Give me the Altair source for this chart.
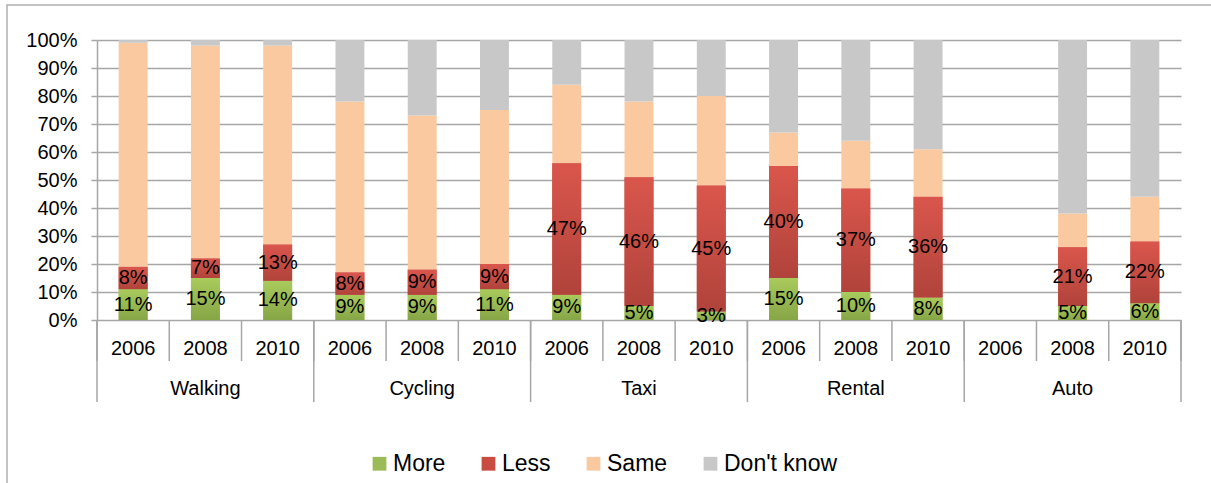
import altair as alt
import pandas as pd

groups = ["Walking", "Cycling", "Taxi", "Rental", "Auto"]
years = ["2006", "2008", "2010"]
series = ["More", "Less", "Same", "Don't know"]
more = [11, 15, 14, 9, 9, 11, 9, 5, 3, 15, 10, 8, 0, 5, 6]
less = [8, 7, 13, 8, 9, 9, 47, 46, 45, 40, 37, 36, 0, 21, 22]
same = [80, 76, 71, 61, 55, 55, 28, 27, 32, 12, 17, 17, 0, 12, 16]
dont = [1, 2, 2, 22, 27, 25, 16, 22, 20, 33, 36, 39, 0, 62, 56]
colors = ["#9BBB59", "#C94C43", "#FAC9A0", "#C8C8C8"]

W, H = 1084, 280
FONT = "Liberation Sans"

rows = []
vals = [more, less, same, dont]
for gi, g in enumerate(groups):
    for yi, yr in enumerate(years):
        idx = gi * 3 + yi
        for si, s in enumerate(series):
            rows.append({"idx": idx, "group": g, "year": yr, "series": s,
                         "order": si, "value": vals[si][idx] / 100})
df = pd.DataFrame(rows)

cats = pd.DataFrame([{"idx": gi * 3 + yi, "year": yr, "group": g}
                     for gi, g in enumerate(groups) for yi, yr in enumerate(years)])
grp = pd.DataFrame([{"gidx": gi, "group": g} for gi, g in enumerate(groups)])
bounds = pd.DataFrame({"b": list(range(len(groups) * len(years) + 1))})
gbounds = pd.DataFrame({"b": [gi * 3 for gi in range(len(groups) + 1)]})

xscale = alt.Scale(domain=[0, len(groups) * len(years)], nice=False, zero=False)
yscale = alt.Scale(domain=[0, 1], nice=False)
yax = alt.Axis(format="%", values=[i / 10 for i in range(11)],
               labelOverlap=False,
               grid=True, gridColor="#A6A6A6", gridWidth=1.5,
               domainColor="#A6A6A6", domainWidth=1.5,
               tickColor="#A6A6A6", tickWidth=1.5, tickSize=6,
               labelFont=FONT, labelFontSize=20, labelColor="#000",
               labelPadding=14, title=None)

base = alt.Chart(df).transform_stack(
    stack="value", groupby=["idx"], as_=["y0", "y1"], sort=[alt.SortField("order")]
).transform_calculate(
    xa="datum.idx + 0.3", xb="datum.idx + 0.7", xm="datum.idx + 0.5",
    ym="(datum.y0 + datum.y1) / 2"
)

bars = base.mark_bar().encode(
    x=alt.X("xa:Q", scale=xscale, axis=None),
    x2="xb:Q",
    y=alt.Y("y0:Q", scale=yscale, axis=yax),
    y2="y1:Q",
    color=alt.Color("series:N", scale=alt.Scale(domain=series, range=colors),
                    sort=series,
                    legend=alt.Legend(orient="none", legendX=271, legendY=412,
                                      direction="horizontal", title=None,
                                      symbolType="square", symbolSize=190,
                                      symbolStrokeWidth=0,
                                      labelFont=FONT, labelFontSize=23,
                                      labelColor="#000", labelOffset=2,
                                      columnPadding=31)),
)

def grad(top, bottom):
    return alt.Gradient(gradient="linear", x1=0, y1=0, x2=0, y2=1,
                        stops=[alt.GradientStop(color=top, offset=0),
                               alt.GradientStop(color=bottom, offset=1)])

more_g = base.transform_filter(alt.datum.series == "More").transform_filter(
    alt.datum.value > 0).mark_bar(fill=grad("#A9CB5C", "#86A546")).encode(
    x=alt.X("xa:Q", scale=xscale, axis=None), x2="xb:Q",
    y=alt.Y("y0:Q", scale=yscale, axis=yax), y2="y1:Q")
less_g = base.transform_filter(alt.datum.series == "Less").transform_filter(
    alt.datum.value > 0).mark_bar(fill=grad("#DA564C", "#B0433B")).encode(
    x=alt.X("xa:Q", scale=xscale, axis=None), x2="xb:Q",
    y=alt.Y("y0:Q", scale=yscale, axis=yax), y2="y1:Q")

labels = base.transform_filter(
    (alt.datum.series == "More") | (alt.datum.series == "Less")
).transform_filter(alt.datum.value > 0).mark_text(
    font=FONT, fontSize=20, color="#000", baseline="middle"
).encode(
    x=alt.X("xm:Q", scale=xscale, axis=None),
    y=alt.Y("ym:Q", scale=yscale, axis=yax),
    text=alt.Text("value:Q", format=".0%"),
)

year_txt = alt.Chart(cats).transform_calculate(xm="datum.idx + 0.5").mark_text(
    font=FONT, fontSize=20, color="#000", baseline="middle"
).encode(x=alt.X("xm:Q", scale=xscale, axis=None), y=alt.value(H + 29), text="year:N")

grp_txt = alt.Chart(grp).transform_calculate(xm="datum.gidx * 3 + 1.5").mark_text(
    font=FONT, fontSize=20, color="#000", baseline="middle"
).encode(x=alt.X("xm:Q", scale=xscale, axis=None), y=alt.value(H + 69), text="group:N")

sep = alt.Chart(bounds).mark_rule(color="#A6A6A6", strokeWidth=1.5).encode(
    x=alt.X("b:Q", scale=xscale, axis=None), y=alt.value(H), y2=alt.value(H + 41))
gsep = alt.Chart(gbounds).mark_rule(color="#A6A6A6", strokeWidth=1.5).encode(
    x=alt.X("b:Q", scale=xscale, axis=None), y=alt.value(H), y2=alt.value(H + 82))

frame = alt.Chart(pd.DataFrame({"f": [0]})).mark_rect(
    fill="transparent", stroke="#B0B0B0", strokeWidth=1.5
).encode(x=alt.value(-90), x2=alt.value(W + 200), y=alt.value(-35), y2=alt.value(H + 300))

chart = alt.layer(frame, bars, more_g, less_g, labels, sep, gsep, year_txt, grp_txt).properties(
    width=W, height=H, padding={"left": 97, "top": 40, "right": 30, "bottom": 163},
    autosize=alt.AutoSizeParams(type="none"),
    background="white",
).configure_view(stroke=None).configure_axis(labelOverlap=False)

chart.save("out.html", embed_options={"renderer": "svg", "actions": False})
